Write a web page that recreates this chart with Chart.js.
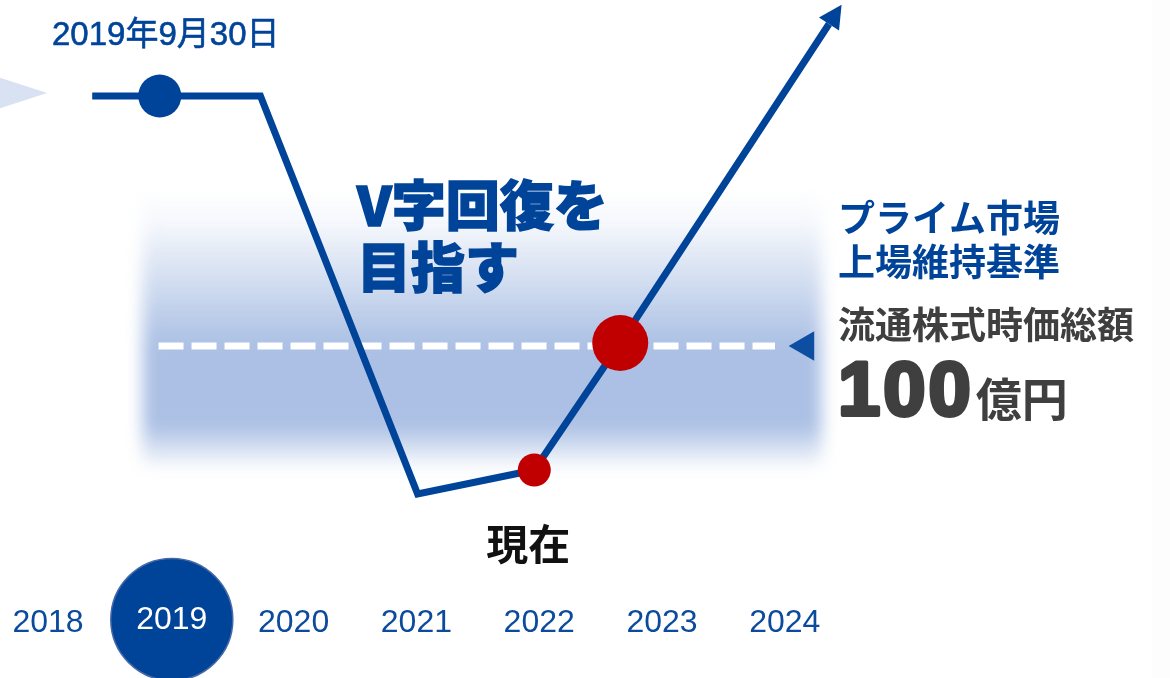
<!DOCTYPE html>
<html lang="ja">
<head>
<meta charset="utf-8">
<title>V字回復を目指す</title>
<script src="https://cdn.jsdelivr.net/npm/chart.js@4/dist/chart.umd.min.js"></script>
<style>
  html, body { margin: 0; padding: 0; background: #fff; overflow: hidden; }
  canvas { display: block; }
</style>
</head>
<body>
<canvas id="chart" width="1170" height="678"></canvas>
<script>
// years along the bottom
const years = [2018, 2019, 2020, 2021, 2022, 2023, 2024];
const highlightYear = 2019;

// the V path (x = time in years, y = tradable market cap, 億円, rough image)
const pathX = [2018.36, 2018.91, 2019.73, 2021.01, 2021.96, 2022.66, 2024.36];
const pathY = [225, 225, 225, 26, 38, 101.5, 261];

// prime market listing threshold
const targetValue = 100;
const targetFrom = 2018.9;
const targetTo = 2023.92;
const markerX = 2024.17;

// shaded zone around the threshold
const bandX = [2018.77, 2024.3];
const bandY = [178, 38];

const dateLabel = "2019年9月30日";
const nowLabel = "現在";
const dateIdx = 1;
const nowIdx = 4;
const crossIdx = 5;

const BLUE = "#00449a";
const RED = "#c00000";
const FONT_JP = '"Noto Sans CJK JP", "Noto Sans", sans-serif';
const FONT_NUM = '"Liberation Sans", Arial, sans-serif';

const pathData = pathX.map((x, i) => ({x: x, y: pathY[i]}));

// background bits: light grey strip on the right, blurred band, faint left arrow
const backdrop = {
  id: "backdrop",
  beforeDatasetsDraw(chart){
    const {ctx, scales:{x, y}} = chart;
    ctx.save();
    ctx.fillStyle = "#fdfdfd";
    ctx.fillRect(1152, 0, chart.width - 1152, chart.height);

    const l = x.getPixelForValue(bandX[0]), r = x.getPixelForValue(bandX[1]);
    const t = y.getPixelForValue(bandY[0]), b = y.getPixelForValue(bandY[1]);
    const mid = y.getPixelForValue(targetValue);
    const g = ctx.createLinearGradient(0, t, 0, b);
    g.addColorStop(0, "rgba(171,192,228,0)");
    g.addColorStop(0.12, "rgba(171,192,228,0.12)");
    g.addColorStop((mid - t) / (b - t), "rgba(171,192,228,1)");
    g.addColorStop(0.84, "rgba(171,192,228,1)");
    g.addColorStop(1, "rgba(171,192,228,0)");
    ctx.filter = "blur(8px)";
    ctx.fillStyle = g;
    ctx.fillRect(l, t, r - l, b - t);
    ctx.filter = "none";

    const p0 = chart.getDatasetMeta(0).data[0];
    ctx.fillStyle = "#d9e2f3";
    ctx.beginPath();
    ctx.moveTo(p0.x - 45, p0.y - 3);
    ctx.lineTo(p0.x - 110, p0.y - 24);
    ctx.lineTo(p0.x - 110, p0.y + 18);
    ctx.closePath();
    ctx.fill();
    ctx.restore();
  }
};

// arrow head, year row and all the text
const overlay = {
  id: "overlay",
  afterDatasetsDraw(chart){
    const {ctx, scales:{x, y}} = chart;
    const pts = chart.getDatasetMeta(0).data;
    ctx.save();

    // arrow head at the end of the path
    const a = pts[pts.length - 2], e = pts[pts.length - 1];
    const dx = e.x - a.x, dy = e.y - a.y, len = Math.hypot(dx, dy);
    const ux = dx / len, uy = dy / len;
    ctx.fillStyle = BLUE;
    ctx.beginPath();
    ctx.moveTo(e.x + ux * 23, e.y + uy * 23);
    ctx.lineTo(e.x - uy * 12, e.y + ux * 12);
    ctx.lineTo(e.x + uy * 12, e.y - ux * 12);
    ctx.closePath();
    ctx.fill();

    ctx.textBaseline = "middle";

    // date label over the first marker
    const pd = pts[dateIdx];
    ctx.fillStyle = BLUE;
    ctx.strokeStyle = BLUE;
    ctx.lineWidth = 0.6;
    ctx.textAlign = "center";
    ctx.font = '33px "Liberation Sans", ' + FONT_JP;
    ctx.fillText(dateLabel, pd.x + 6, 36);
    ctx.strokeText(dateLabel, pd.x + 6, 36);

    // 現在
    const pn = pts[nowIdx];
    ctx.fillStyle = "#111";
    ctx.font = "bold 42px " + FONT_JP;
    ctx.fillText(nowLabel, pn.x - 6, 544);

    // headline
    ctx.fillStyle = BLUE;
    ctx.strokeStyle = BLUE;
    ctx.lineWidth = 1.5;
    ctx.textAlign = "left";
    ctx.font = "900 54px " + FONT_JP;
    ctx.fillText("V字回復を", 357, 205);
    ctx.strokeText("V字回復を", 357, 205);
    ctx.fillText("目指す", 357, 267);
    ctx.strokeText("目指す", 357, 267);

    // right side notes
    const ty = y.getPixelForValue(targetValue);
    ctx.font = "bold 37px " + FONT_JP;
    ctx.fillText("プライム市場", 838, 218);
    ctx.fillText("上場維持基準", 838, 262);
    ctx.fillStyle = "#3f3f3f";
    ctx.strokeStyle = "#3f3f3f";
    ctx.font = "bold 37px " + FONT_JP;
    ctx.fillText("流通株式時価総額", 838, ty - 21);
    ctx.textBaseline = "alphabetic";
    ctx.font = "900 76px " + FONT_NUM;
    ctx.letterSpacing = "3px";
    ctx.lineWidth = 4;
    ctx.lineJoin = "round";
    ctx.fillText(String(targetValue), 838, ty + 69);
    ctx.strokeText(String(targetValue), 838, ty + 69);
    const w100 = ctx.measureText(String(targetValue)).width;
    ctx.letterSpacing = "0px";
    ctx.font = "bold 46px " + FONT_JP;
    ctx.fillText("億円", 838 + w100 + 2, ty + 70);

    // year row
    ctx.textBaseline = "middle";
    ctx.textAlign = "center";
    years.forEach(yr => {
      const px = x.getPixelForValue(yr);
      if(yr === highlightYear){
        ctx.beginPath();
        ctx.arc(px + 1, 619.5, 61, 0, Math.PI * 2);
        ctx.fillStyle = BLUE;
        ctx.fill();
        ctx.lineWidth = 1.5;
        ctx.strokeStyle = "#4568a6";
        ctx.stroke();
        ctx.fillStyle = "#fff";
        ctx.font = "32px " + FONT_NUM;
        ctx.fillText(String(yr), px + 1, 620);
      } else {
        ctx.fillStyle = "#0b4a9c";
        ctx.font = "32px " + FONT_NUM;
        ctx.fillText(String(yr), px, 623);
      }
    });
    ctx.restore();
  }
};

new Chart(document.getElementById("chart").getContext("2d"), {
  type: "line",
  data: {
    datasets: [
      {
        data: pathData,
        borderColor: BLUE,
        borderWidth: 7,
        borderJoinStyle: "miter",
        borderCapStyle: "butt",
        tension: 0,
        pointRadius: pathData.map((_, i) => i === dateIdx ? 21.5 : i === nowIdx ? 16.5 : i === crossIdx ? 28 : 0),
        pointBackgroundColor: pathData.map((_, i) => i === dateIdx ? BLUE : RED),
        pointBorderWidth: 0,
        order: 0
      },
      {
        data: [{x: targetFrom, y: targetValue}, {x: targetTo, y: targetValue}],
        borderColor: "#ffffff",
        borderWidth: 7,
        borderDash: [25, 8],
        borderCapStyle: "butt",
        pointRadius: 0,
        order: 1
      },
      {
        data: [{x: markerX, y: targetValue}],
        showLine: false,
        pointStyle: "triangle",
        rotation: 270,
        pointRadius: 17,
        pointBackgroundColor: "#0d4ea3",
        pointBorderWidth: 0,
        order: 2
      }
    ]
  },
  options: {
    responsive: false,
    animation: false,
    layout: { padding: 0, autoPadding: false },
    clip: false,
    plugins: { legend: { display: false }, tooltip: { enabled: false } },
    scales: {
      x: { type: "linear", min: 2017.609, max: 2027.137, display: false },
      y: { type: "linear", min: -66, max: 273, display: false }
    }
  },
  plugins: [backdrop, overlay]
});
</script>
</body>
</html>
